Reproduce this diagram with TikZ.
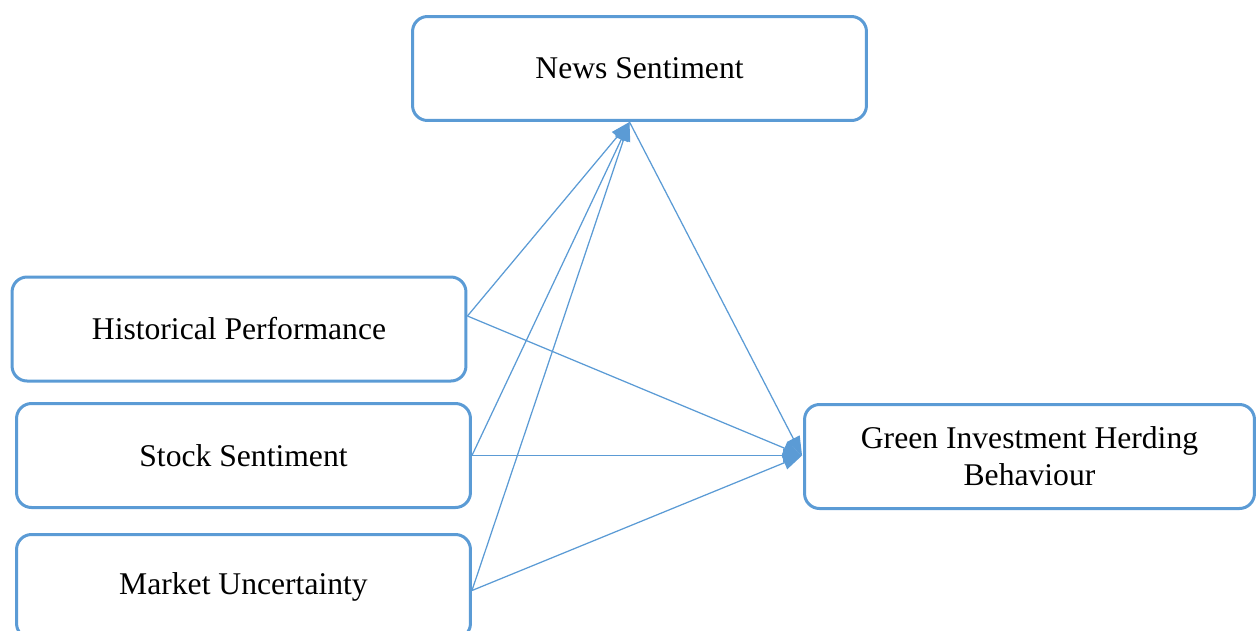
\documentclass[tikz,border=0pt]{standalone}
\usepackage{fontspec}
\setmainfont{Liberation Serif}
\usetikzlibrary{arrows.meta}
\definecolor{wordblue}{RGB}{91,155,213}

\begin{document}
\begin{tikzpicture}[x=0.02cm, y=-0.02cm,
	factor/.style={draw=wordblue, line width=0.06cm, rounded corners=0.3cm, minimum width=9.08cm, minimum height=2.08cm, align=center, font=\fontsize{18}{21}\selectfont},
	link/.style={draw=wordblue, line width=0.025cm, -{Triangle[length=0.38cm, width=0.28cm]}}]
			%%%%% START %%%%%
			
			\useasboundingbox (0, 0) rectangle (1257, 630);
			
			\node[factor] (ns) at (639.5, 68.5) {News Sentiment};
			\node[factor] (hp) at (239, 329) {Historical Performance};
			\node[factor] (ss) at (243.5, 455.5) {Stock Sentiment};
			\node[factor] (mu) at (243.5, 586.5) {Market Uncertainty};
			\node[factor, minimum width=9.0cm] (gib) at (1029.5, 456.5) {Green Investment Herding\\Behaviour};
			
			\coordinate (hp-out) at ([yshift=0.26cm]hp.east);
			\coordinate (mu-out) at ([yshift=-0.08cm]mu.east);
			\coordinate (ns-in) at ([xshift=-0.2cm]ns.south);
			\coordinate (gib-in) at ([xshift=-0.02cm, yshift=0.02cm]gib.west);
			
			\draw[link] (hp-out) -- (ns-in);
			\draw[link] (ss.east) -- (ns-in);
			\draw[link] (mu-out) -- (ns-in);
			
			\draw[link] (hp-out) -- (gib-in);
			\draw[link] (ss.east) -- (gib-in);
			\draw[link] (mu-out) -- (gib-in);
			\draw[link] (ns-in) -- (gib-in);
			
			%%%%% END %%%%%
\end{tikzpicture}
\end{document}
